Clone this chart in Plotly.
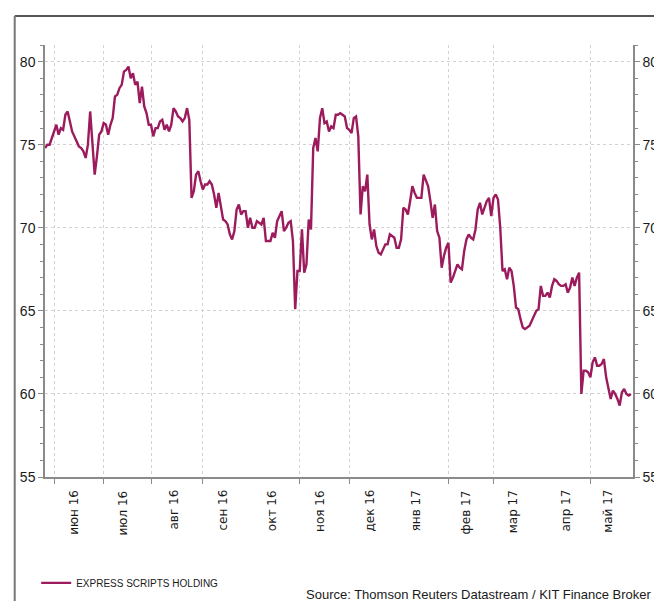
import pandas as pd
import plotly.graph_objects as go

# ---- data ----
start_date = "2016-05-26"
end_date = "2017-05-25"
dates = pd.bdate_range(start_date, end_date)

prices = [
    74.8, 75.0, 75.0, 75.4, 75.7, 76.2, 75.6, 76.0, 75.9, 76.8,
    77.0, 76.4, 75.8, 75.5, 75.2, 74.9, 74.8, 74.6, 74.2, 75.0,
    77.0, 74.8, 73.2, 74.3, 75.6, 75.8, 76.3, 76.2, 75.6, 76.2,
    76.6, 77.9, 78.0, 78.4, 78.6, 79.4, 79.5, 79.7, 79.0, 79.3,
    78.6, 78.8, 77.5, 78.5, 77.3, 76.9, 76.2, 76.2, 75.5, 76.0,
    76.0, 76.4, 76.5, 75.9, 76.2, 75.8, 76.2, 77.2, 77.0, 76.7,
    76.6, 76.4, 76.6, 77.2, 76.5, 71.8, 72.2, 73.2, 73.4, 72.8,
    72.3, 72.6, 72.6, 72.8, 72.6, 72.0, 71.2, 72.1, 71.2, 70.5,
    70.4, 70.2, 69.6, 69.3, 69.8, 71.1, 71.4, 70.8, 71.0, 71.0,
    70.0, 70.6, 70.0, 70.0, 70.4, 70.3, 70.2, 70.6, 69.2, 69.2,
    69.2, 69.7, 69.4, 70.4, 70.7, 71.0, 69.8, 70.0, 70.3, 70.4,
    69.2, 65.1, 67.4, 67.4, 69.9, 67.3, 67.8, 70.5, 69.9, 74.8,
    75.4, 74.6, 76.6, 77.2, 76.3, 76.4, 75.8, 76.1, 76.0, 76.8,
    76.8, 76.9, 76.8, 76.7, 76.0, 75.9, 75.7, 76.6, 76.7, 75.5,
    70.8, 72.5, 72.2, 73.2, 70.2, 69.3, 69.9, 68.9, 68.5, 68.4,
    68.7, 69.0, 69.0, 69.6, 69.5, 69.4, 68.8, 68.8, 69.3, 71.2,
    71.1, 70.8, 71.6, 72.5, 72.1, 71.8, 71.8, 71.8, 73.2, 72.8,
    72.5, 71.6, 70.6, 71.4, 69.8, 69.4, 67.6, 68.3, 68.8, 69.1,
    66.7, 67.0, 67.4, 67.8, 67.6, 67.5, 68.6, 69.3, 69.6, 69.4,
    69.3, 69.9, 71.1, 71.5, 70.8, 71.2, 71.6, 71.8, 70.7, 71.8,
    72.0, 71.7, 70.0, 67.4, 67.5, 66.9, 67.6, 67.4, 66.5, 65.2,
    65.1, 64.5, 64.0, 63.9, 64.0, 64.1, 64.4, 64.7, 65.0, 65.1,
    66.5, 65.9, 65.9, 66.1, 65.8, 66.5, 66.9, 66.8, 66.6, 66.5,
    66.5, 66.6, 66.1, 66.4, 67.0, 66.5, 67.0, 67.3, 60.0, 61.4,
    61.4, 61.3, 61.0, 61.9, 62.2, 61.7, 61.7, 61.8, 62.1, 61.0,
    60.3, 59.7, 60.2, 60.0, 59.7, 59.3, 60.1, 60.3, 60.0, 59.9,
    60.0,
]

series_name = "EXPRESS SCRIPTS HOLDING"

month_starts = ["2016-06-01", "2016-07-01", "2016-08-01", "2016-09-01", "2016-10-01",
                "2016-11-01", "2016-12-01", "2017-01-01", "2017-02-01", "2017-03-01",
                "2017-04-01", "2017-05-01"]
label_dates = ["2016-06-14", "2016-07-14", "2016-08-15", "2016-09-14", "2016-10-14",
               "2016-11-14", "2016-12-14", "2017-01-12", "2017-02-13", "2017-03-14",
               "2017-04-14", "2017-05-11"]
month_labels = ["июн 16", "июл 16", "авг 16", "сен 16", "окт 16", "ноя 16",
                "дек 16", "янв 17", "фев 17", "мар 17", "апр 17", "май 17"]
y_ticks = [55, 60, 65, 70, 75, 80]
source_text = "Source: Thomson Reuters Datastream / KIT Finance Broker"

# ---- style ----
LINE_COLOR = "#9B1B5C"
AXIS_COLOR = "#8a8a8a"
GRID_COLOR = "#d2d2d2"
TEXT_COLOR = "#1a1a1a"
FONT = "Liberation Sans, Arial, sans-serif"
LABEL_FONT = "DejaVu Sans, Verdana, sans-serif"

W, H = 662, 601
ML, MR, MT, MB = 36, 24, 37, 131

x_range = ["2016-05-25 23:00", "2017-05-25 22:00"]
y_range = [55, 81]

fig = go.Figure()
fig.add_trace(go.Scatter(
    x=dates, y=prices, mode="lines", name=series_name,
    line=dict(color=LINE_COLOR, width=2.4),
    xaxis="x", yaxis="y",
))
# invisible helper trace to activate the right-hand axis
fig.add_trace(go.Scatter(x=dates, y=prices, mode="lines", xaxis="x", yaxis="y2",
                         line=dict(width=0, color="rgba(0,0,0,0)"),
                         showlegend=False, hoverinfo="skip"))

rb = [dict(bounds=["sat", "mon"])]

fig.update_layout(
    width=W, height=H,
    paper_bgcolor="white", plot_bgcolor="white",
    margin=dict(l=ML, r=MR, t=MT, b=MB),
    font=dict(family=FONT, color=TEXT_COLOR),
    showlegend=True,
    legend=dict(orientation="h", x=-0.015, xanchor="left", y=-0.245, yanchor="middle",
                font=dict(family=FONT, size=10, color=TEXT_COLOR),
                bgcolor="rgba(0,0,0,0)"),
    xaxis=dict(
        type="date", range=x_range, rangebreaks=rb,
        tickmode="array", tickvals=month_starts, showticklabels=False,
        ticks="outside", ticklen=5, tickcolor=AXIS_COLOR, tickwidth=1,
        showgrid=True, gridcolor=GRID_COLOR, griddash="dot", gridwidth=1,
        showline=True, linecolor=AXIS_COLOR, linewidth=1.5,
        zeroline=False, anchor="y",
    ),
    yaxis=dict(
        range=y_range, tickmode="array", tickvals=y_ticks,
        ticks="outside", ticklen=5, tickcolor=AXIS_COLOR,
        minor=dict(dtick=1, ticks="outside", ticklen=3, tickcolor=AXIS_COLOR, showgrid=False),
        showgrid=True, gridcolor=GRID_COLOR, griddash="dot", gridwidth=1,
        showline=True, linecolor=AXIS_COLOR, linewidth=1.5,
        zeroline=False, tickfont=dict(size=14, color=TEXT_COLOR), anchor="x",
    ),
    yaxis2=dict(
        range=y_range, overlaying="y", side="right", anchor="x",
        tickmode="array", tickvals=y_ticks,
        ticks="outside", ticklen=5, tickcolor=AXIS_COLOR,
        minor=dict(dtick=1, ticks="outside", ticklen=3, tickcolor=AXIS_COLOR, showgrid=False),
        showgrid=False, showline=True, linecolor=AXIS_COLOR, linewidth=1.5,
        zeroline=False, tickfont=dict(size=14, color=TEXT_COLOR),
    ),
)

plot_w = W - ML - MR
plot_h = H - MT - MB
def px_to_paper_x(px):
    return (px - ML) / plot_w
def py_to_paper_y(py):
    return (H - MB - py) / plot_h

# month labels, rotated, centred in each month on the date axis
for d, lab in zip(label_dates, month_labels):
    fig.add_annotation(text=lab, x=d, xref="x", y=py_to_paper_y(481), yref="paper",
                       textangle=-90, xanchor="center", yanchor="top", showarrow=False,
                       font=dict(family=LABEL_FONT, size=12, color=TEXT_COLOR))

# frame lines (top and left) of the chart panel
fig.add_shape(type="line", xref="paper", yref="paper",
              x0=px_to_paper_x(5), x1=px_to_paper_x(662),
              y0=py_to_paper_y(8), y1=py_to_paper_y(8),
              line=dict(color="#555555", width=2))
fig.add_shape(type="line", xref="paper", yref="paper",
              x0=px_to_paper_x(5), x1=px_to_paper_x(5),
              y0=py_to_paper_y(8), y1=py_to_paper_y(601),
              line=dict(color="#777777", width=2))

fig.add_annotation(text=source_text, xref="paper", yref="paper",
                   x=px_to_paper_x(659), y=py_to_paper_y(588),
                   xanchor="right", yanchor="middle", showarrow=False,
                   font=dict(family=FONT, size=13, color=TEXT_COLOR))

fig.write_html("out.html")
